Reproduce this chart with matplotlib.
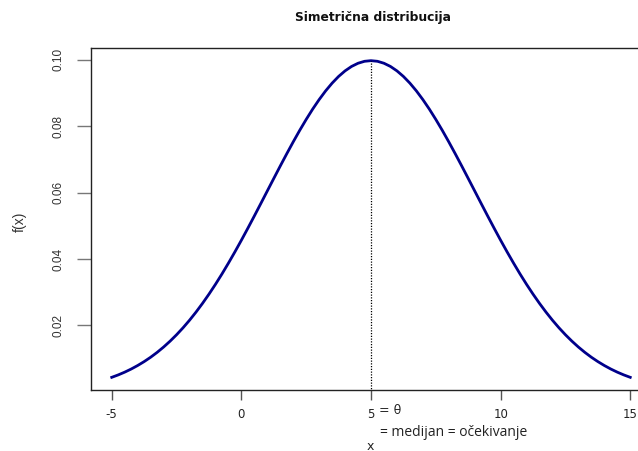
import numpy as np
import matplotlib.pyplot as plt

# density values (x from -5 to 15, step 0.25)
x = np.arange(-5, 15.001, 0.25)
half = [0.00438, 0.00511, 0.00594, 0.00688, 0.00794, 0.00912, 0.01043, 0.01189,
        0.01350, 0.01527, 0.01720, 0.01930, 0.02157, 0.02402, 0.02664, 0.02943,
        0.03238, 0.03549, 0.03876, 0.04215, 0.04566, 0.04928, 0.05297, 0.05672,
        0.06050, 0.06427, 0.06802, 0.07170, 0.07529, 0.07875, 0.08204, 0.08515,
        0.08802, 0.09064, 0.09297, 0.09499, 0.09667, 0.09800, 0.09896, 0.09955]
peak = 0.09974
fx = np.array(half + [peak] + half[::-1])

mu = 5
xticks = [-5, 0, 5, 10, 15]
xticklabels = ['-5', '0', '5', '10', '15']
yticks = [0.02, 0.04, 0.06, 0.08, 0.10]
yticklabels = ['0.02', '0.04', '0.06', '0.08', '0.10']

fig = plt.figure(figsize=(6.38, 4.51), dpi=100)
# axes box: left 91px, right ~651px (past the edge), top 48px, bottom 390px
ax = fig.add_axes([91/638, 1 - 390/451, 560/638, 342/451])

ax.plot(x, fx, color='#00008B', lw=2.0)
ax.plot([mu, mu], [-1, peak], color='black', lw=0.9, linestyle=(0, (1, 1.2)))

xr = x.max() - x.min()
yr = fx.max() - fx.min()
ax.set_xlim(x.min() - 0.04*xr, x.max() + 0.04*xr)
ax.set_ylim(fx.min() - 0.04*yr, fx.max() + 0.04*yr)

for s in ax.spines.values():
    s.set_linewidth(1.0)
    s.set_color('#222222')

ax.set_xticks(xticks)
ax.set_xticklabels(xticklabels, fontsize=8.5, family='DejaVu Sans', color='#222222')
ax.set_yticks(yticks)
ax.set_yticklabels(yticklabels, fontsize=8.5, family='Liberation Sans',
                   rotation=90, va='center', color='#333333')
ax.tick_params(axis='x', length=7, width=1, color='#555555', pad=6)
ax.tick_params(axis='y', length=10, width=1, color='#777777', pad=9)

fig.text(379/638, 1 - 410/451, '= θ', ha='left', va='center',
         fontsize=9, family='DejaVu Sans', color='#222222')
fig.text(380/638, 1 - 433/451, '= medijan = očekivanje', ha='left', va='center',
         fontsize=10, family='Open Sans', color='#222222')
fig.text(370/638, 1 - 446/451, 'x', ha='center', va='center',
         fontsize=9, family='DejaVu Sans', color='#222222')
fig.text(20/638, 1 - 222/451, 'f(x)', ha='center', va='center', rotation=90,
         fontsize=10, family='Liberation Sans', color='#333333')
fig.text(373/638, 1 - 18/451, 'Simetrična distribucija', ha='center', va='center',
         fontsize=8.8, fontweight='bold', family='DejaVu Sans', color='#111111')

fig.savefig('out.png', dpi=100)
